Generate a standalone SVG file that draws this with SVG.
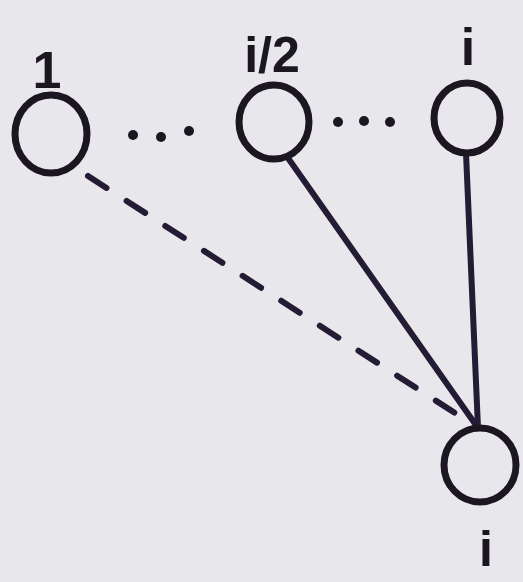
<svg xmlns="http://www.w3.org/2000/svg" width="523" height="582" viewBox="0 0 523 582">
<style>
.node{fill:none;stroke:#1b1620;stroke-width:7}
.lbl{font-family:"Liberation Sans",Arial,sans-serif;font-weight:bold;fill:#1b1620;text-anchor:middle}
.edge{stroke:#241c34;stroke-width:6;stroke-linecap:round;fill:none}
.dash{stroke-dasharray:22 24}
.dot{fill:#1b1620}
</style>
<rect width="523" height="582" fill="#e8e7eb"/>
<g id="connectors">
<line class="edge dash" x1="88" y1="176" x2="472" y2="424"/>
<line class="edge" x1="288" y1="158" x2="478" y2="428"/>
<line class="edge" x1="466" y1="153" x2="478" y2="428"/>
</g>
<g id="node-1">
<ellipse class="node" cx="51" cy="134" rx="36" ry="39"/>
<text class="lbl" x="47" y="88" font-size="52">1</text>
</g>
<g id="dots-left">
<circle class="dot" cx="133" cy="135" r="5"/>
<circle class="dot" cx="161" cy="137" r="5"/>
<circle class="dot" cx="189" cy="131" r="5"/>
</g>
<g id="node-i2">
<ellipse class="node" cx="274" cy="122" rx="35" ry="37"/>
<text class="lbl" x="272" y="72" font-size="50">i/2</text>
</g>
<g id="dots-right">
<circle class="dot" cx="338" cy="122" r="5"/>
<circle class="dot" cx="364" cy="121" r="5"/>
<circle class="dot" cx="390" cy="122" r="5"/>
</g>
<g id="node-i-top">
<ellipse class="node" cx="467" cy="118" rx="33" ry="35"/>
<text class="lbl" x="468" y="65" font-size="52">i</text>
</g>
<g id="node-i-bottom">
<ellipse class="node" cx="480" cy="465" rx="36" ry="37"/>
<text class="lbl" x="486" y="566" font-size="50">i</text>
</g>
</svg>
